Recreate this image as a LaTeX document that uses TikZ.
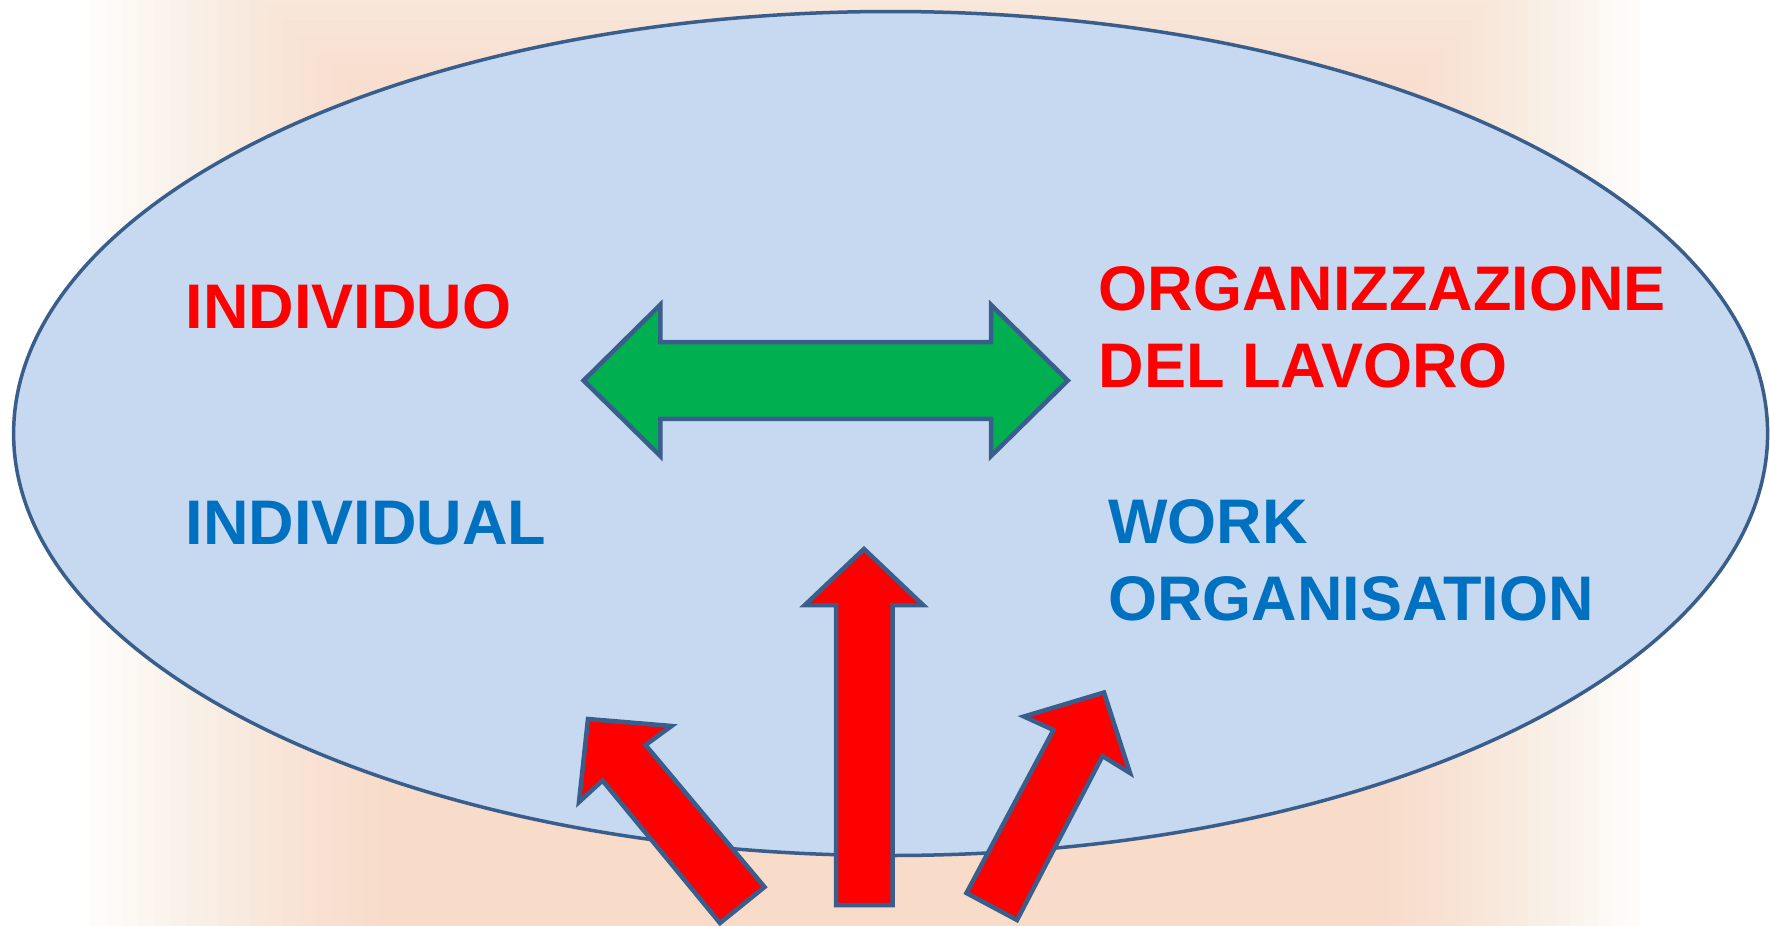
\documentclass[tikz,border=0pt]{standalone}
\usepackage{fontspec}
\setmainfont{Liberation Sans}
\usetikzlibrary{positioning}

\definecolor{glow}{RGB}{248,196,160}
\definecolor{ovalfill}{RGB}{198,217,240}
\definecolor{ovalline}{RGB}{58,94,140}
\definecolor{linkgreen}{RGB}{0,176,80}
\definecolor{termred}{RGB}{255,0,0}
\definecolor{termblue}{RGB}{0,112,192}

\begin{document}
\begin{tikzpicture}[
	x=1pt, y=-1pt,
	term/.style = {anchor=base west, inner sep=0pt, align=left,
		font=\fontsize{63}{77}\selectfont\bfseries},
	it/.style = {term, text=termred},
	en/.style = {term, text=termblue},
	blockarrow/.style = {draw=ovalline, line width=4.5pt, line join=miter, miter limit=20}
]
\useasboundingbox (0,0) rectangle (1770,926);
\fill[white] (0,0) rectangle (1770,926);
% soft glow behind the oval
\foreach \i in {0,...,19}
	\fill[glow, opacity=0.035] (90+16*\i,-160+15*\i) rectangle (1640-14*\i,1000-4*\i);

\draw[fill=ovalfill, draw=ovalline, line width=3.5pt] (890.6,433.5) ellipse (877 and 422);

% two-way link
\draw[blockarrow, fill=linkgreen] (583.6,380.5) -- (660.3,304.8) -- (660.3,342) -- (991,342)
	-- (991,304.8) -- (1067.8,380.5) -- (991,456) -- (991,418.8) -- (660.3,418.8) -- (660.3,456) -- cycle;

\node [it] (individuo) at (185.5,328.5) {INDIVIDUO};
\node [it] (organizzazione) at (1098.5,387.4) {ORGANIZZAZIONE\\DEL LAVORO};
\node [en] (individual) at (185.5,544) {INDIVIDUAL};
\node [en] (workorg) at (1108,620) {WORK\\ORGANISATION};

% pushes from outside
\draw[blockarrow, fill=termred] (720,923) -- (764.5,887) -- (645.5,745) -- (671.5,726)
	-- (588,719) -- (579,802) -- (602.5,780.5) -- cycle;
\draw[blockarrow, fill=termred] (836,905) -- (836,605) -- (805,605) -- (864,549)
	-- (923,605) -- (892.5,605) -- (892.5,905) -- cycle;
\draw[blockarrow, fill=termred] (966.5,893) -- (1017,920) -- (1102.5,756) -- (1130,773)
	-- (1104,692.5) -- (1024,716.5) -- (1053.5,730) -- cycle;
\end{tikzpicture}
\end{document}
